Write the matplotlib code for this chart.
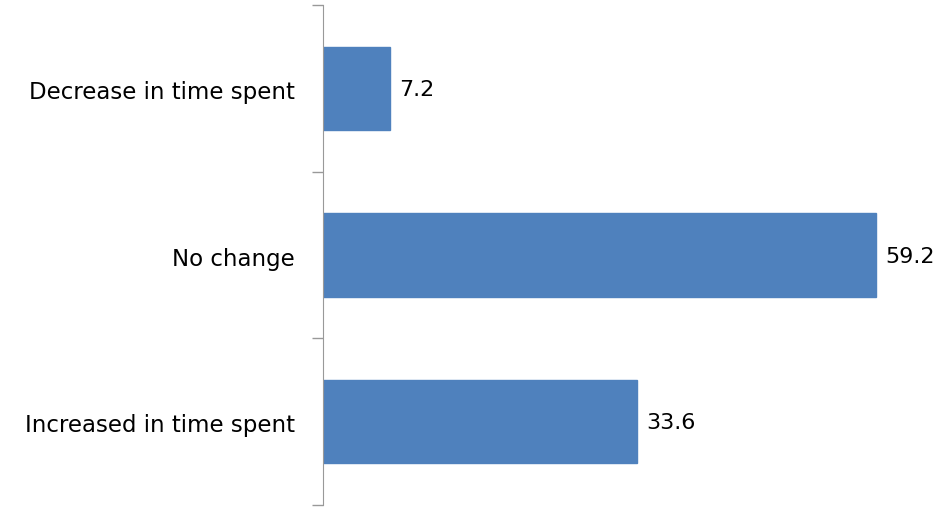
import matplotlib
matplotlib.use("Agg")
import matplotlib.pyplot as plt

categories = ["Decrease in time spent", "No change", "Increased in time spent"]
values = [7.2, 59.2, 33.6]

plt.rcParams['font.family'] = ['DejaVu Sans']

fig = plt.figure(figsize=(9.39, 5.07), dpi=100)
ax = fig.add_axes([323/939, 2/507, 1 - 323/939, 500/507])

y = list(range(len(categories)))
bars = ax.barh(y, values, height=0.5, color="#4f81bd", edgecolor="#4f81bd")
ax.set_ylim(len(categories) - 0.5, -0.5)
ax.set_xlim(0, 66)

for yi, v in zip(y, values):
    ax.text(v + 1.0, yi + 0.01, f"{v}", va="center", ha="left", fontsize=16, color="black")

ax.set_yticks([-0.5, 0.5, 1.5, 2.5])
ax.set_yticklabels([])
ax.set_yticks([yi + 0.01 for yi in y], minor=True)
ax.set_yticklabels(categories, minor=True, fontsize=16.5)
ax.tick_params(axis='y', which='major', length=8, color="#999999", width=1)
ax.tick_params(axis='y', which='minor', length=0, pad=20)
ax.set_xticks([])
for s in ["top", "right", "bottom"]:
    ax.spines[s].set_visible(False)
ax.spines["left"].set_color("#999999")

fig.savefig("out.png", dpi=100)
